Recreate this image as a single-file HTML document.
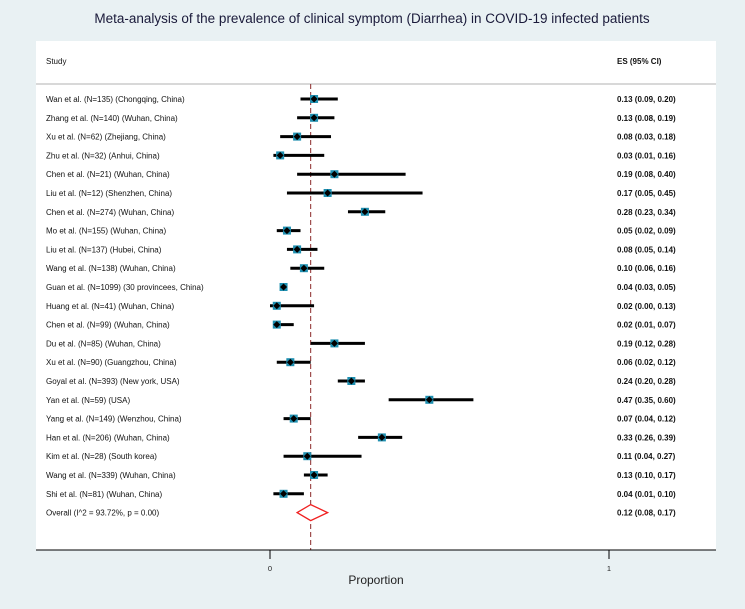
<!DOCTYPE html>
<html><head><meta charset="utf-8"><style>
body{margin:0;background:#e9f1f3;font-family:"Liberation Sans",Arial,sans-serif}
svg{display:block}
</style></head><body>
<svg width="745" height="609" xmlns="http://www.w3.org/2000/svg">
<rect x="0" y="0" width="745" height="609" fill="#e9f1f3"/>
<text x="372" y="23" font-size="13.5" text-anchor="middle" fill="#1a1a3a">Meta-analysis of the prevalence of clinical symptom (Diarrhea) in COVID-19 infected patients</text>
<rect x="36" y="41" width="680" height="509" fill="#fff"/>
<text x="46" y="64" font-size="8" fill="#111">Study</text>
<text x="617" y="64" font-size="8" font-weight="bold" fill="#111">ES (95% CI)</text>
<line x1="36" y1="84" x2="716" y2="84" stroke="#999" stroke-width="0.8"/>
<g id="rows"></g>
<line x1="36" y1="550" x2="716" y2="550" stroke="#000" stroke-width="1"/>
<g id="ticks"></g>
<text x="376" y="584" font-size="12" text-anchor="middle" fill="#222">Proportion</text>
<script>
const studies=["Wan et al. (N=135) (Chongqing, China)","Zhang et al. (N=140) (Wuhan, China)","Xu et al. (N=62) (Zhejiang, China)","Zhu et al. (N=32) (Anhui, China)","Chen et al. (N=21) (Wuhan, China)","Liu et al. (N=12) (Shenzhen, China)","Chen et al. (N=274) (Wuhan, China)","Mo et al. (N=155) (Wuhan, China)","Liu et al. (N=137) (Hubei, China)","Wang et al. (N=138) (Wuhan, China)","Guan et al. (N=1099) (30 provincees, China)","Huang et al. (N=41) (Wuhan, China)","Chen et al. (N=99) (Wuhan, China)","Du et al. (N=85) (Wuhan, China)","Xu et al. (N=90) (Guangzhou, China)","Goyal et al. (N=393) (New york, USA)","Yan et al. (N=59) (USA)","Yang et al. (N=149) (Wenzhou, China)","Han et al. (N=206) (Wuhan, China)","Kim et al. (N=28) (South korea)","Wang et al. (N=339) (Wuhan, China)","Shi et al. (N=81) (Wuhan, China)"];
const es=[0.13,0.13,0.08,0.03,0.19,0.17,0.28,0.05,0.08,0.10,0.04,0.02,0.02,0.19,0.06,0.24,0.47,0.07,0.33,0.11,0.13,0.04];
const lo=[0.09,0.08,0.03,0.01,0.08,0.05,0.23,0.02,0.05,0.06,0.03,0.00,0.01,0.12,0.02,0.20,0.35,0.04,0.26,0.04,0.10,0.01];
const hi=[0.20,0.19,0.18,0.16,0.40,0.45,0.34,0.09,0.14,0.16,0.05,0.13,0.07,0.28,0.12,0.28,0.60,0.12,0.39,0.27,0.17,0.10];
const overall=[0.12,0.08,0.17];
const overallLabel="Overall  (I^2 = 93.72%, p = 0.00)";
const ticks=[0,1];
const NS="http://www.w3.org/2000/svg";
const xs=v=>270+v*339;
const ys=i=>99+i*18.8;
const g=document.getElementById('rows');
function mk(t,a,p){const e=document.createElementNS(NS,t);for(const k in a)e.setAttribute(k,a[k]);(p||g).appendChild(e);return e;}
const fmt=v=>v.toFixed(2);
const oy=ys(studies.length);
let dl=mk('line',{x1:xs(overall[0]),x2:xs(overall[0]),y1:84,y2:550,stroke:'#8b2a2a','stroke-width':1,'stroke-dasharray':'5,3'});


studies.forEach((s,i)=>{
  const y=ys(i);
  let t=mk('text',{x:46,y:y+3,'font-size':8,fill:'#111'});t.textContent=s;
  
  
  let l=mk('line',{x1:xs(lo[i]),x2:xs(hi[i]),y1:y,y2:y,stroke:'#000','stroke-width':3});
  
  
  let r=mk('rect',{x:xs(es[i])-4,y:y-4,width:8,height:8,fill:'#1e8fb0'});
  
  
  const cx=xs(es[i]);
  let d=mk('polygon',{points:`${cx},${y-3.5} ${cx+3.5},${y} ${cx},${y+3.5} ${cx-3.5},${y}`,fill:'#000'});
  
  
  let e=mk('text',{x:617,y:y+3,'font-size':8,'font-weight':'bold',fill:'#111'});
  e.textContent=`${fmt(es[i])} (${fmt(lo[i])}, ${fmt(hi[i])})`;
  
  
});
let ot=mk('text',{x:46,y:oy+3,'font-size':8,fill:'#111'});ot.textContent=overallLabel;


let dm=mk('polygon',{points:`${xs(overall[1])},${oy} ${xs(overall[0])},${oy-8} ${xs(overall[2])},${oy} ${xs(overall[0])},${oy+8}`,fill:'#fff',stroke:'#f02020','stroke-width':1.3});


let oe=mk('text',{x:617,y:oy+3,'font-size':8,'font-weight':'bold',fill:'#111'});
oe.textContent=`${fmt(overall[0])} (${fmt(overall[1])}, ${fmt(overall[2])})`;


const tg=document.getElementById('ticks');
ticks.forEach(v=>{
  let l=mk('line',{x1:xs(v),x2:xs(v),y1:550,y2:559,stroke:'#000','stroke-width':1},tg);
  
  
  let t=mk('text',{x:xs(v),y:571,'font-size':7.5,'text-anchor':'middle',fill:'#222'},tg);t.textContent=v;
  
  
});
</script>
</svg>
</body></html>
